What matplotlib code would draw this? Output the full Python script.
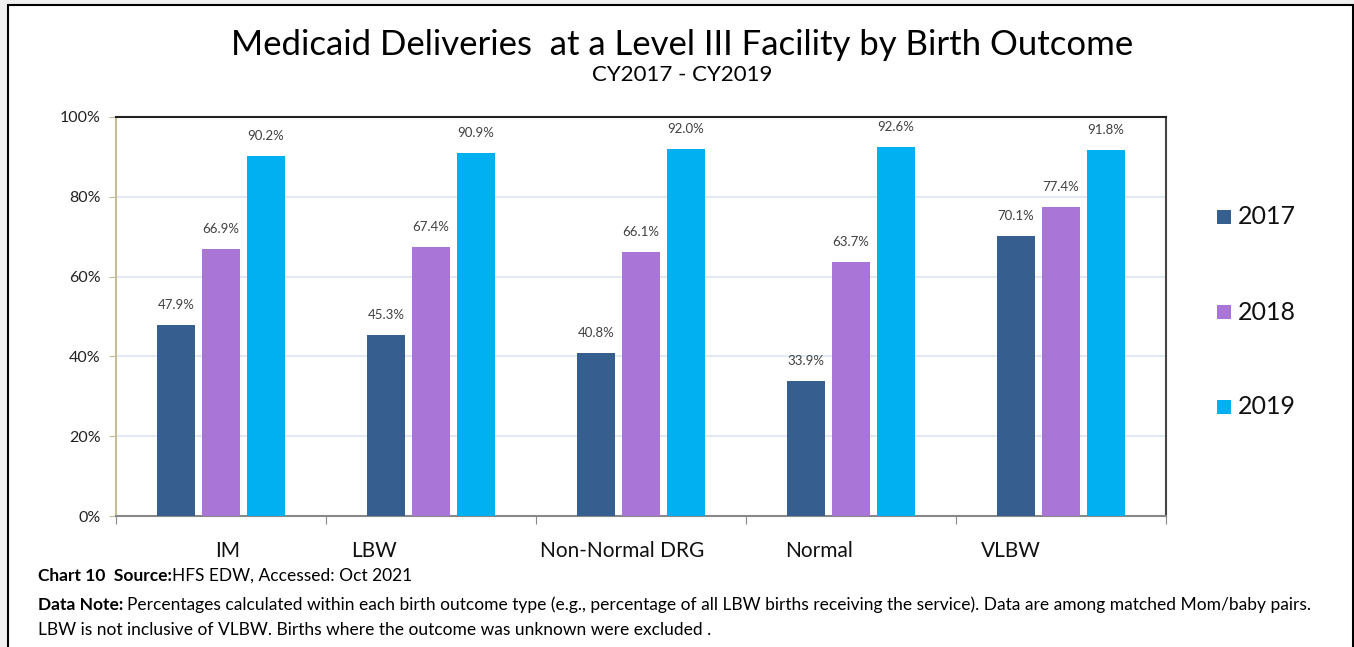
import matplotlib.pyplot as plt
import numpy as np
from matplotlib.patches import Rectangle

plt.rcParams['font.family'] = ['Lato', 'DejaVu Sans']

# data
outcomes = ["IM", "LBW", "Non-Normal DRG", "Normal", "VLBW"]
years = ["2017", "2018", "2019"]
pct_2017 = [47.9, 45.3, 40.8, 33.9, 70.1]
pct_2018 = [66.9, 67.4, 66.1, 63.7, 77.4]
pct_2019 = [90.2, 90.9, 92.0, 92.6, 91.8]

colors = ["#365F8F", "#A975D6", "#00B0F0"]

W, H = 1354, 647
fig = plt.figure(figsize=(W / 100, H / 100), dpi=100)
fig.patch.set_facecolor("#F0F0F0")

# white panel with border (like the excel chart frame)
fig.patches.append(Rectangle((8 / W, -0.01), 1345 / W, 1 - 5 / H + 0.01,
                             transform=fig.transFigure, facecolor="white",
                             edgecolor="black", linewidth=1.5, zorder=-5))

ax = fig.add_axes([116 / W, 1 - 516 / H, 1050 / W, 399 / H])
ax.set_zorder(2)

x = np.arange(len(outcomes))
width = 0.18
step = 0.214
series = [pct_2017, pct_2018, pct_2019]
for i, vals in enumerate(series):
    bars = ax.bar(x + (i - 1) * step, vals, width, color=colors[i], label=years[i], zorder=3)
    for b, v in zip(bars, vals):
        ax.annotate(f"{v:.1f}%", (b.get_x() + b.get_width() / 2, v),
                    xytext=(0, 10), textcoords="offset points",
                    ha="center", va="bottom", fontsize=9.5, color="#404040",
                    annotation_clip=False)

ax.set_xlim(-0.5, len(outcomes) - 0.5)
ax.set_ylim(0, 100)
ax.set_yticks(np.arange(0, 101, 20))
ax.set_yticklabels([f"{t}%" for t in range(0, 101, 20)], fontsize=11.5, color="#222222")
ax.yaxis.grid(True, color="#DCE6F2", linewidth=1.2, zorder=0)
ax.set_axisbelow(True)

# category boundaries as ticks, labels as text
ax.set_xticks(np.arange(-0.5, len(outcomes)))
ax.set_xticklabels([])
ax.tick_params(axis="x", length=6, color="#888888")
ax.tick_params(axis="y", length=5, color="#C4BD97", pad=6)
label_x = [0.03, 0.73, 1.91, 2.85, 3.76]  # excel draws these off-centre
for lx, name in zip(label_x, outcomes):
    ax.text(lx, -8.8, name, ha="center", va="center", fontsize=15, color="#111111")

ax.spines["left"].set_color("#C4BD97")
ax.spines["bottom"].set_color("#888888")
ax.spines["top"].set_color("#222222")
ax.spines["right"].set_color("#444444")
for s in ax.spines.values():
    s.set_linewidth(1.5)

# legend
for i, yr in enumerate(years):
    ly = 1 - (217 + 95 * i) / H
    fig.patches.append(Rectangle((1217 / W, ly - 7 / H), 14 / W, 14 / H,
                                 transform=fig.transFigure, facecolor=colors[i]))
    fig.text(1238 / W, ly, yr, fontsize=18, va="center", ha="left", color="#111111")

fig.text(682 / W, 1 - 45 / H, "Medicaid Deliveries  at a Level III Facility by Birth Outcome",
         ha="center", va="center", fontsize=25)
fig.text(682 / W, 1 - 75 / H, "CY2017 - CY2019", ha="center", va="center", fontsize=16)

renderer = fig.canvas.get_renderer()


def two_part(xpx, ypx, bold, rest, size):
    t = fig.text(xpx / W, 1 - ypx / H, bold, fontsize=size, fontweight="bold", va="center")
    bb = t.get_window_extent(renderer)
    fig.text(bb.x1 / W, 1 - ypx / H, rest, fontsize=size, va="center")


two_part(38, 576, "Chart 10  Source:", "HFS EDW, Accessed: Oct 2021", 12.5)
two_part(38, 605, "Data Note: ",
         "Percentages calculated within each birth outcome type (e.g., percentage of all LBW births "
         "receiving the service). Data are among matched Mom/baby pairs.", 12.5)
fig.text(38 / W, 1 - 630 / H,
         "LBW is not inclusive of VLBW. Births where the outcome was unknown were excluded .",
         fontsize=12.5, va="center")

fig.savefig("out.png", dpi=100)
